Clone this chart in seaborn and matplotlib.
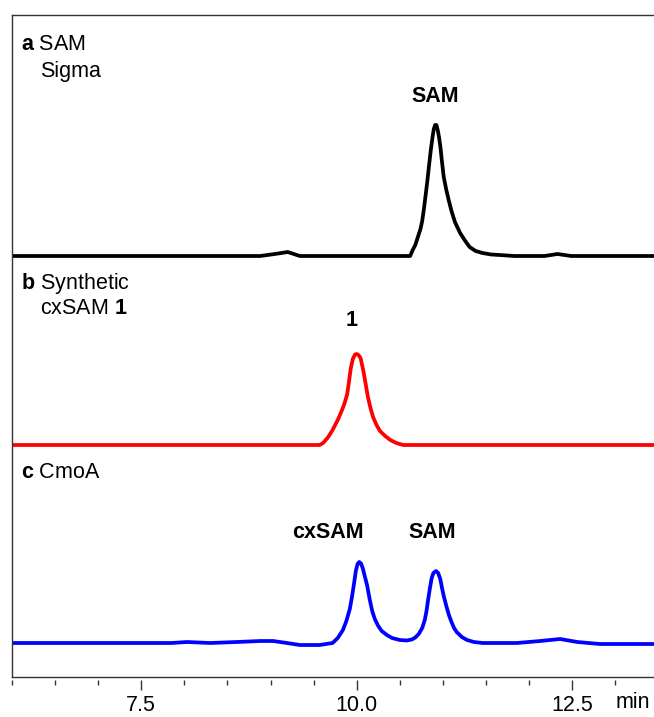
import numpy as np
import pandas as pd
import matplotlib
matplotlib.use("Agg")
import matplotlib.pyplot as plt
import seaborn as sns

sns.set_theme(style="white")
plt.rcParams['font.family'] = ['Liberation Sans', 'DejaVu Sans']
plt.rcParams['mathtext.fontset'] = 'custom'
plt.rcParams['mathtext.rm'] = 'Liberation Sans'
plt.rcParams['mathtext.bf'] = 'Liberation Sans:bold'
plt.rcParams['text.color'] = 'black'

# retention time (min) and detector signal (offset, arbitrary units)
t_sam = [6.00, 8.88, 9.05, 9.20, 9.34, 10.62, 10.65, 10.68, 10.71, 10.74, 10.76, 10.78,
         10.80, 10.82, 10.84, 10.86, 10.88, 10.895, 10.91, 10.925, 10.94, 10.955, 10.97,
         10.99, 11.01, 11.04, 11.07, 11.10, 11.14, 11.20, 11.26, 11.31, 11.38, 11.46,
         11.56, 11.66, 11.83, 12.18, 12.33, 12.49, 13.45]
y_sam = [421, 421, 423, 425, 421, 421, 427, 432, 440, 448, 456, 468,
         482, 496, 512, 527, 540, 548, 552, 552, 547, 540, 531,
         515, 500, 487, 476, 466, 455, 444, 436, 430, 426, 424,
         422.5, 422, 421, 421, 423, 421, 421]

t_cx = [6.00, 9.57, 9.61, 9.67, 9.72, 9.78, 9.83, 9.86, 9.89, 9.91, 9.93, 9.955,
        9.98, 10.00, 10.02, 10.045, 10.06, 10.08, 10.10, 10.13, 10.16, 10.19, 10.23,
        10.27, 10.33, 10.39, 10.46, 10.54, 13.45]
y_cx = [232, 232, 234, 240, 247, 257, 267, 274, 283, 295, 308, 318,
        322.5, 323, 322, 319, 313, 305, 295, 280, 269, 260, 252,
        246, 241, 237, 234, 232, 232]

t_cmoa = [6.00, 7.85, 8.03, 8.30, 8.61, 8.88, 9.03, 9.19, 9.34, 9.57, 9.72, 9.78,
          9.84, 9.88, 9.92, 9.945, 9.97, 9.99, 10.01, 10.03, 10.05, 10.07, 10.09,
          10.12, 10.15, 10.18, 10.21, 10.25, 10.29, 10.35, 10.41, 10.50, 10.58, 10.64,
          10.68, 10.72, 10.76, 10.79, 10.81, 10.83, 10.85, 10.87, 10.89, 10.92, 10.945,
          10.97, 10.99, 11.01, 11.04, 11.07, 11.10, 11.13, 11.16, 11.22, 11.28, 11.36,
          11.46, 11.86, 12.13, 12.36, 12.56, 12.82, 13.45]
y_cmoa = [34, 34, 35, 34, 35, 36, 36, 34, 32, 32, 34, 39,
          47, 56, 68, 80, 94, 106, 113, 115, 113.5, 109, 102,
          92, 78, 66, 58, 51, 46, 42, 39, 37, 36.5, 37.5,
          39.5, 43, 49, 57, 66, 78, 89, 99, 104, 106, 104,
          98, 89, 81, 71, 62, 55, 49, 45, 40, 37, 35,
          34, 34, 36, 38, 35, 33, 33]

traces = ['SAM Sigma', 'Synthetic cxSAM 1', 'CmoA']
colors = ['#000000', '#ff0000', '#0000ff']

major_ticks = [7.5, 10.0, 12.5]
minor_ticks = [6.0, 6.5, 7.0, 8.0, 8.5, 9.0, 9.5, 10.5, 11.0, 11.5, 12.0, 13.0]

df = pd.concat([
    pd.DataFrame({'time': t_sam, 'signal': y_sam, 'trace': traces[0]}),
    pd.DataFrame({'time': t_cx, 'signal': y_cx, 'trace': traces[1]}),
    pd.DataFrame({'time': t_cmoa, 'signal': y_cmoa, 'trace': traces[2]}),
])

fig = plt.figure(figsize=(6.54, 7.17), dpi=100)
ax = fig.add_axes([12/654, 40/717, 1 - 12/654, 662/717])

sns.lineplot(data=df, x='time', y='signal', hue='trace', palette=colors,
             estimator=None, sort=False, legend=False, linewidth=2.7, ax=ax,
             solid_joinstyle='round', solid_capstyle='round')

ax.set_xlim(6.0, 13.45)
ax.set_ylim(0, 662)
ax.set_xlabel('')
ax.set_ylabel('')
ax.set_yticks([])
ax.set_xticks([])
ax.spines['right'].set_visible(False)
for s in ['left', 'top', 'bottom']:
    ax.spines[s].set_color('#333333')
    ax.spines[s].set_linewidth(1.0)

# tick axis sits a little below the frame
sec = ax.secondary_xaxis(-3/662)
sec.spines['bottom'].set_visible(False)
sec.set_xticks(major_ticks)
sec.set_xticklabels(['7.5', '10.0', '12.5'])
sec.set_xticks(minor_ticks, minor=True)
sec.tick_params(axis='x', which='major', length=7.5, width=1.0, color='#333333',
                direction='out', labelsize=15.5, pad=3.5, labelcolor='black')
sec.tick_params(axis='x', which='minor', length=3.8, width=1.0, color='#333333',
                direction='out')

ax.text(13.2, -26, 'min', fontsize=15.5, ha='center', va='center', color='black',
        clip_on=False)

# panel labels
fs = 15.5
ax.text(6.11, 632, r'$\mathbf{a}$ SAM', fontsize=fs, ha='left', va='center')
ax.text(6.33, 605, 'Sigma', fontsize=fs, ha='left', va='center')
ax.text(6.11, 394, r'$\mathbf{b}$ Synthetic', fontsize=fs, ha='left', va='center')
ax.text(6.33, 369, r'cxSAM $\mathbf{1}$', fontsize=fs, ha='left', va='center')
ax.text(6.11, 205, r'$\mathbf{c}$ CmoA', fontsize=fs, ha='left', va='center')

# peak labels
ax.text(10.907, 580, 'SAM', fontsize=15.5, fontweight='bold', ha='center', va='center')
ax.text(9.944, 357, '1', fontsize=15.5, fontweight='bold', ha='center', va='center')
ax.text(9.666, 145, 'cxSAM', fontsize=15.5, fontweight='bold', ha='center', va='center')
ax.text(10.872, 145, 'SAM', fontsize=15.5, fontweight='bold', ha='center', va='center')

fig.savefig('out.png', dpi=100)
